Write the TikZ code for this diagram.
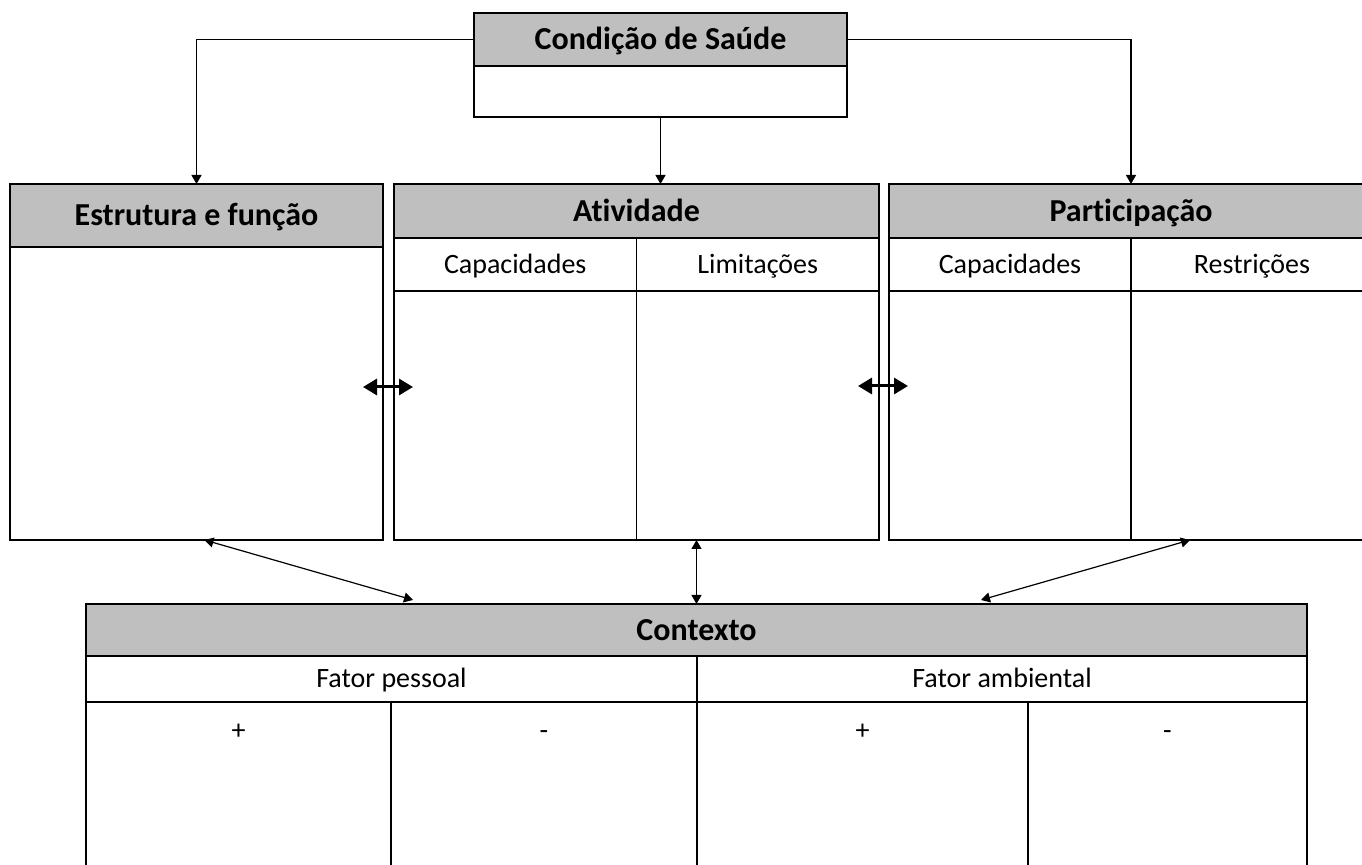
\documentclass[tikz,border=0pt]{standalone}
\usepackage{fontspec}
\setmainfont{Carlito}[Ligatures=NoCommon]
\usetikzlibrary{arrows.meta}

\definecolor{headgray}{RGB}{191,191,191}

\tikzset{
  box/.style 2 args={draw, line width=0.75pt, inner sep=0pt, outer sep=0pt,
    anchor=north west, minimum width=#1*0.5pt, minimum height=#2*0.5pt,
    text height=9pt, text depth=0pt,
    font=\fontsize{14}{17}\selectfont},
  headbox/.style={fill=headgray, text height=10.3pt,
    font=\fontsize{16}{19}\selectfont\bfseries},
  sign/.style={anchor=base, inner sep=0pt, font=\fontsize{14}{17}\selectfont},
  conn/.style={line width=0.6pt, -{Triangle[length=4.5pt,width=5pt]}},
  link/.style={line width=0.6pt,
    {Triangle[length=4.5pt,width=5pt]}-{Triangle[length=4.5pt,width=5pt]}},
  bidir/.style={line width=1.5pt,
    {Triangle[length=7pt,width=8pt]}-{Triangle[length=7pt,width=8pt]}}
}

\begin{document}
\begin{tikzpicture}[x=0.5pt, y=-0.5pt]

  % Fix the page to the size of the original
  \useasboundingbox (0,0) rectangle (1362,865);
  \clip (0,0) rectangle (1362,865);

  % Health condition
  \node[box={373}{53}, headbox] (saude) at (474,13) {Condição de Saúde};
  \node[box={373}{51}] (saude body) at (474,66) {};

  % Structure and function
  \node[box={373}{63}, headbox] (estrutura) at (10,184) {Estrutura e função};
  \node[box={373}{293}] (estrutura body) at (10,247) {};

  % Activity
  \node[box={485}{54}, headbox] (atividade) at (394,184) {Atividade};
  \node[box={242.5}{53}] (ativ cap) at (394,238) {Capacidades};
  \node[box={242.5}{53}] (ativ lim) at (636.5,238) {Limitações};
  \node[box={242.5}{249}] (ativ cap body) at (394,291) {};
  \node[box={242.5}{249}] (ativ lim body) at (636.5,291) {};

  % Participation
  \node[box={484}{54}, headbox] (participacao) at (889,184) {Participação};
  \node[box={242}{53}] (part cap) at (889,238) {Capacidades};
  \node[box={242}{53}] (part res) at (1131,238) {Restrições};
  \node[box={242}{249}] (part cap body) at (889,291) {};
  \node[box={242}{249}] (part res body) at (1131,291) {};

  % Context
  \node[box={1221}{52}, headbox] (contexto) at (86,604) {Contexto};
  \node[box={611}{46}] (pessoal) at (86,656) {Fator pessoal};
  \node[box={610}{46}] (ambiental) at (697,656) {Fator ambiental};
  \node[box={305}{220}] (pes mais) at (86,702) {};
  \node[box={306}{220}] (pes menos) at (391,702) {};
  \node[box={331}{220}] (amb mais) at (697,702) {};
  \node[box={279}{220}] (amb menos) at (1028,702) {};

  % Signs in the context cells
  \node[sign] (sinal pm) at (238.5,740) {+};
  \node[sign] (sinal pn) at (544,740) {-};
  \node[sign] (sinal am) at (862.5,740) {+};
  \node[sign] (sinal an) at (1167.5,740) {-};

  % Arrows from the health condition
  \draw[conn] (saude.west) -| (estrutura.north);
  \draw[conn] (saude.east) -| (participacao.north);
  \draw[conn] (saude body.south) -- (saude body.south |- atividade.north);

  % Links between the components
  \coordinate (gap1 l) at (363,387);
  \coordinate (gap1 r) at (413,387);
  \coordinate (gap2 l) at (858,386);
  \coordinate (gap2 r) at (908,386);
  \draw[bidir] (gap1 l) -- (gap1 r);
  \draw[bidir] (gap2 l) -- (gap2 r);

  % Links to the context
  \draw[link] ([shift={(8,0)}]estrutura body.south) -- ([shift={(327,-4)}]contexto.north west);
  \draw[link] (contexto.north) -- (contexto.north |- ativ lim body.south);
  \draw[link] ([shift={(59,0)}]part res body.south west) -- ([shift={(-326,-4)}]contexto.north east);

\end{tikzpicture}
\end{document}
